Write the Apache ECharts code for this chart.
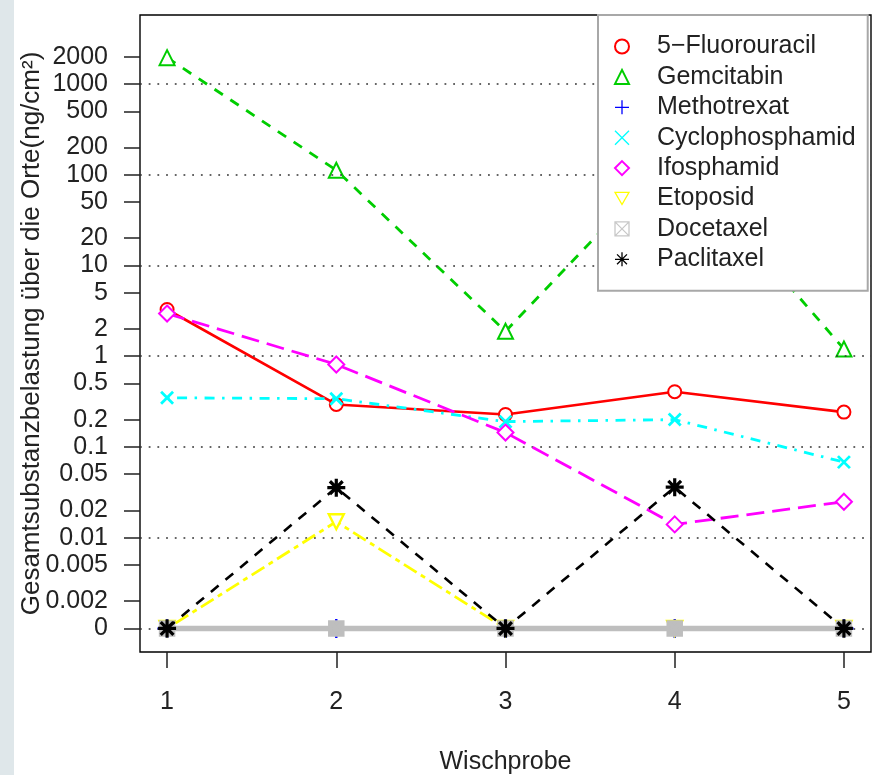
<!DOCTYPE html>
<html><head><meta charset="utf-8">
<script src="https://cdn.jsdelivr.net/npm/echarts@6/dist/echarts.min.js"></script>
<style>html,body{margin:0;padding:0;background:#fff}#c{width:877px;height:775px}</style>
</head><body><div id="c"></div>
<script>
// ---- data ----
const xValues = [1, 2, 3, 4, 5];
const seriesNames = ['5\u2212Fluorouracil', 'Gemcitabin', 'Methotrexat', 'Cyclophosphamid', 'Ifosphamid', 'Etoposid', 'Docetaxel', 'Paclitaxel'];
const fluorouracil    = [3.27, 0.294, 0.228, 0.406, 0.242];
const gemcitabin      = [1950, 112, 1.88, 170, 1.2];
const methotrexat     = [0, 0, 0, 0, 0];
const cyclophosphamid = [0.348, 0.34, 0.19, 0.2, 0.068];
const ifosphamid      = [2.95, 0.81, 0.144, 0.014, 0.0249];
const etoposid        = [0, 0.015, 0, 0, 0];
const docetaxel       = [0, 0, 0, 0, 0];
const paclitaxel      = [0, 0.0356, 0, 0.036, 0];
const yTickLabels = ['0', '0.002', '0.005', '0.01', '0.02', '0.05', '0.1', '0.2', '0.5', '1', '2', '5', '10', '20', '50', '100', '200', '500', '1000', '2000'];
const gridLevels  = ['0', '0.01', '0.1', '1', '10', '100', '1000'];
const xTickLabels = ['1', '2', '3', '4', '5'];

// ---- scale: log10, with 0 drawn at 0.001 ----
const ZERO_POS = -3;
function tr(v) { return v === 0 ? ZERO_POS : Math.log10(v); }
function labelPos(s) { return s === '0' ? ZERO_POS : Math.log10(parseFloat(s)); }
const yTickPos = yTickLabels.map(labelPos);

const FONT = '"Liberation Sans", Arial, Helvetica, sans-serif';
const TXT = '#222';

const SYM_PLUS = 'path://M5,0L5,10M0,5L10,5';
const SYM_CROSS = 'path://M0,0L10,10M10,0L0,10';
const SYM_STAR = 'path://M5,0L5,10M0,5L10,5M1.46,1.46L8.54,8.54M8.54,1.46L1.46,8.54';
const SYM_DOWN = 'path://M0,0L10,0L5,8.66Z';
const SYM_BOXX = 'path://M0,0L10,0L10,10L0,10ZM0,0L10,10M10,0L0,10';

const allData = [fluorouracil, gemcitabin, methotrexat, cyclophosphamid, ifosphamid, etoposid, docetaxel, paclitaxel];
const styles = [
  {color: '#ff0000', symbol: 'emptyCircle', size: 13, dash: 'solid', width: 2.6},
  {color: '#00cd00', symbol: 'emptyTriangle', size: 15, dash: [10, 9], width: 2.8},
  {color: '#0000ff', symbol: SYM_PLUS, size: 19, dash: [2.5, 7.5], width: 2.5, stroke: true, bw: 2.4},
  {color: '#00ffff', symbol: SYM_CROSS, size: 12, dash: [2.5, 7.5, 10, 7.5], width: 2.8, stroke: true, bw: 2.8},
  {color: '#ff00ff', symbol: 'emptyDiamond', size: 16, dash: [18, 8], width: 2.8},
  {color: '#ffff00', symbol: SYM_DOWN, size: 15, dash: [5, 5, 15, 5], width: 2.8, fillWhite: true},
  {color: '#bebebe', symbol: SYM_BOXX, size: 13, dash: 'solid', width: 5.5, stroke: true, boxFill: true, bw: 3.5},
  {color: '#000000', symbol: SYM_STAR, size: 18, dash: [10, 9], width: 2.6, stroke: true, bw: 3.2}
];
const legendIcons = ['emptyCircle', 'emptyTriangle', SYM_PLUS, SYM_CROSS, 'emptyDiamond', SYM_DOWN, SYM_BOXX, SYM_STAR];

const series = seriesNames.map((name, k) => {
  const st = styles[k];
  let itemStyle;
  if (st.stroke) itemStyle = {color: st.boxFill ? st.color : 'rgba(0,0,0,0)', borderColor: st.color, borderWidth: st.bw};
  else if (st.fillWhite) itemStyle = {color: '#ffffff', borderColor: st.color, borderWidth: 2.4};
  else itemStyle = {color: st.color};
  const s = {
    name: name,
    type: 'line',
    data: xValues.map((x, i) => [x, tr(allData[k][i])]),
    symbol: st.symbol,
    symbolSize: st.size,
    showAllSymbol: true,
    itemStyle: itemStyle,
    lineStyle: {color: st.color, width: st.width, type: st.dash},
    emphasis: {disabled: true},
    z: 3 + k
  };
  if (k === 0) {
    s.markLine = {
      silent: true,
      symbol: ['none', 'none'],
      label: {show: false},
      lineStyle: {color: '#333', type: [1.8, 6.9], width: 1.6},
      emphasis: {disabled: true},
      data: gridLevels.map(g => ({yAxis: labelPos(g)}))
    };
  }
  return s;
});

const legendData = seriesNames.map((name, k) => {
  const st = styles[k];
  const icon = legendIcons[k];
  let itemStyle;
  if (icon.indexOf('empty') === 0) itemStyle = {color: st.color};
  else if (st.fillWhite) itemStyle = {color: '#ffffff', borderColor: st.color, borderWidth: 1.3};
  else itemStyle = {color: 'rgba(0,0,0,0)', borderColor: st.color === '#bebebe' ? '#c8c8c8' : st.color, borderWidth: 1.3};
  return {name: name, icon: icon, itemStyle: itemStyle};
});

const chart = echarts.init(document.getElementById('c'), null, {renderer: 'canvas'});
chart.setOption({
  animation: false,
  backgroundColor: '#ffffff',
  textStyle: {fontFamily: FONT},
  graphic: [{type: 'rect', left: 0, top: 0, shape: {width: 14, height: 775}, style: {fill: '#dfe7ea'}, z: -10, silent: true}],
  grid: {left: 140, top: 15, right: 6, bottom: 123, show: true, borderColor: '#000', borderWidth: 1.4, backgroundColor: '#fff',
    containLabel: false, outerBoundsMode: 'none'},
  legend: {
    orient: 'vertical',
    left: 598, top: 15,
    padding: [19, 12, 19, 16],
    itemWidth: 14, itemHeight: 14, itemGap: 5.4,
    backgroundColor: '#ffffff',
    borderColor: '#a8a8a8', borderWidth: 2,
    selectedMode: false,
    textStyle: {fontFamily: FONT, fontSize: 25, color: TXT, lineHeight: 25, padding: [0, 0, 0, 23]},
    data: legendData,
    z: 20
  },
  xAxis: {
    type: 'value', min: 0.84, max: 5.16,
    name: 'Wischprobe', nameLocation: 'middle', nameGap: 98, nameMoveOverlap: false,
    nameTextStyle: {fontFamily: FONT, fontSize: 25, color: TXT},
    axisLine: {show: false, onZero: false},
    axisTick: {show: true, length: 16, lineStyle: {color: TXT, width: 1.5}, customValues: xValues},
    axisLabel: {fontFamily: FONT, fontSize: 25, color: TXT, margin: 38, customValues: xValues,
      formatter: v => xTickLabels[xValues.indexOf(Math.round(v))] || ''},
    splitLine: {show: false}
  },
  yAxis: {
    type: 'value', min: -3.26, max: 3.76,
    name: 'Gesamtsubstanzbelastung \u00fcber die Orte(ng/cm\u00b2)', nameLocation: 'middle', nameGap: 95, nameMoveOverlap: false,
    nameTextStyle: {fontFamily: FONT, fontSize: 26, color: TXT},
    axisLine: {show: false, onZero: false},
    axisTick: {show: true, length: 16, lineStyle: {color: TXT, width: 1.5}, customValues: yTickPos},
    axisLabel: {fontFamily: FONT, fontSize: 25, color: TXT, margin: 32, customValues: yTickPos,
      formatter: function (v) {
        let best = 0, bd = Infinity;
        yTickPos.forEach((p, i) => { const d = Math.abs(p - v); if (d < bd) { bd = d; best = i; } });
        return yTickLabels[best];
      }},
    splitLine: {show: false}
  },
  series: series
});
</script>
</body></html>
